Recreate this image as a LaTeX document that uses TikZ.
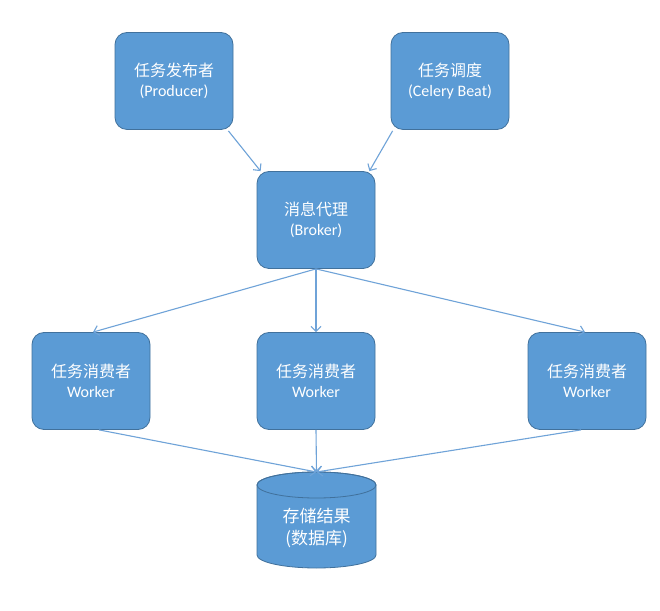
\documentclass[tikz,border=0pt]{standalone}
\usepackage{fontspec}
\setmainfont{Carlito}
\newfontfamily\cjk{Noto Sans CJK SC}
\usetikzlibrary{arrows.meta}
\definecolor{boxfill}{HTML}{5B9BD5}
\definecolor{boxline}{HTML}{41719C}
\definecolor{arrowc}{HTML}{6FA3D8}
\begin{document}
\begin{tikzpicture}[x=1pt,y=1pt,
  box/.style={draw=boxline, line width=0.8pt, fill=boxfill, rounded corners=12pt,
    minimum width=118pt, minimum height=97pt, align=center, text=white,
    font=\fontsize{16}{20}\selectfont, inner sep=0pt},
  conn/.style={draw=arrowc, line width=1.1pt, -{Straight Barb[length=5pt,width=10pt]}}]
\useasboundingbox (0,0) rectangle (660,610);
\fill[white] (0,0) rectangle (660,610);
\node[box] (prod) at (174,529) {{\cjk 任务发布者}\\(Producer)};
\node[box] (beat) at (450,529) {{\cjk 任务调度}\\(Celery Beat)};
\node[box] (broker) at (316,390) {{\cjk 消息代理}\\(Broker)};
\node[box] (w1) at (91,229) {{\cjk 任务消费者}\\Worker};
\node[box] (w2) at (316,229) {{\cjk 任务消费者}\\Worker};
\node[box] (w3) at (587,229) {{\cjk 任务消费者}\\Worker};
% cylinder
\path[fill=boxfill, draw=boxline, line width=0.8pt]
  (257,125) -- (257,55) arc[start angle=180, end angle=360, x radius=59.5pt, y radius=13pt]
  -- (376,125) arc[start angle=0, end angle=180, x radius=59.5pt, y radius=13pt] -- cycle;
\draw[boxline, line width=0.8pt] (316.5,125) ellipse[x radius=59.5pt, y radius=13pt];
\node[text=white, align=center, font=\cjk\fontsize{17}{22}\selectfont] (db) at (316.5,82) {存储结果\\(数据库)};
\coordinate (dbtop) at (316.5,138);
% connectors
\draw[conn] ([xshift=-5pt,yshift=-1pt]prod.south east) -- ([xshift=4pt]broker.north west);
\draw[conn] ([xshift=2pt,yshift=-1pt]beat.south west) -- ([xshift=-6pt]broker.north east);
\draw[conn] (broker.south) -- ([xshift=2pt]w1.north);
\draw[conn] (broker.south) -- (w2.north);
\draw[conn] (broker.south) -- ([xshift=-2pt]w3.north);
\draw[conn] ([xshift=8pt]w1.south) -- (dbtop);
\draw[conn] (w2.south) -- (dbtop);
\draw[conn] ([xshift=-6pt]w3.south) -- (dbtop);
\end{tikzpicture}
\end{document}
